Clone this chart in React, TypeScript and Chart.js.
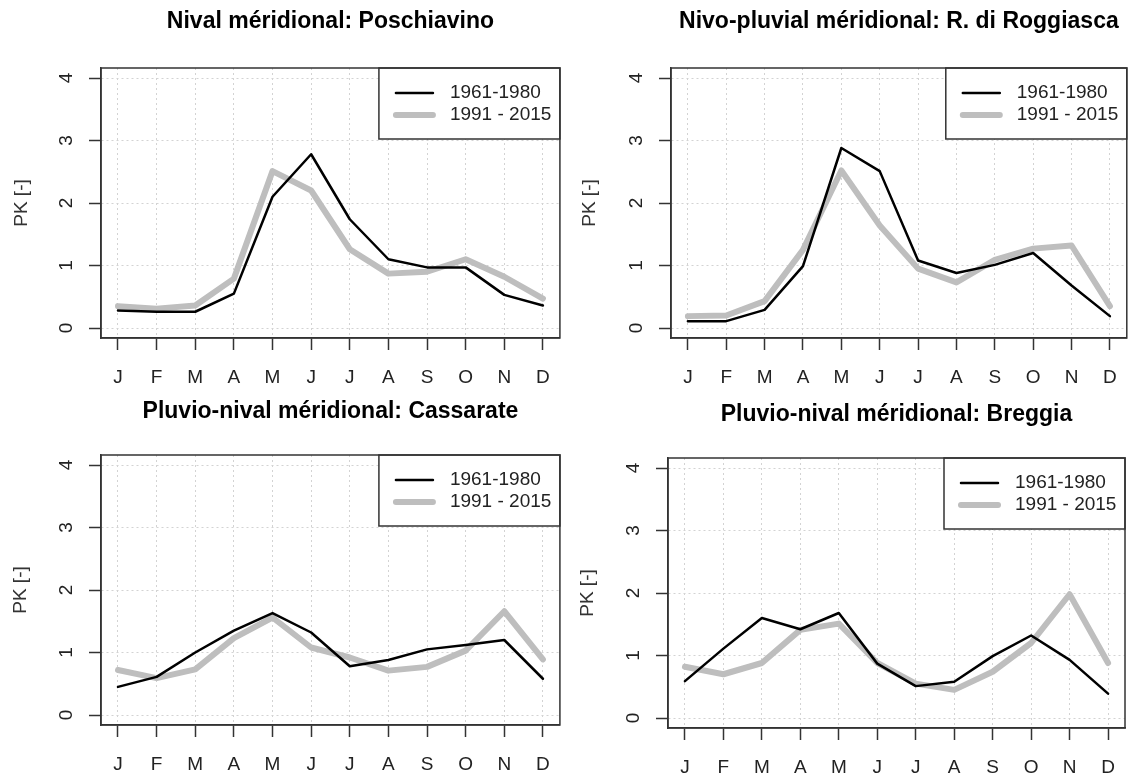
import React, { useEffect, useRef } from "react";
import { Chart, registerables } from "chart.js";

Chart.register(...registerables);

const MONTHS = ["J", "F", "M", "A", "M", "J", "J", "A", "S", "O", "N", "D"];
const Y_TICKS = [0, 1, 2, 3, 4];
const SERIES_LABELS = ["1961-1980", "1991 - 2015"];
const Y_TITLE = "PK [-]";

const TITLES = [
  "Nival méridional: Poschiavino",
  "Nivo-pluvial méridional: R. di Roggiasca",
  "Pluvio-nival méridional: Cassarate",
  "Pluvio-nival méridional: Breggia",
];

const poschiavino1961 = [0.28, 0.26, 0.26, 0.55, 2.1, 2.78, 1.74, 1.1, 0.97, 0.97, 0.53, 0.36];
const poschiavino1991 = [0.35, 0.31, 0.36, 0.79, 2.51, 2.2, 1.26, 0.87, 0.9, 1.1, 0.82, 0.47];
const roggiasca1961 = [0.11, 0.11, 0.29, 0.99, 2.88, 2.51, 1.08, 0.88, 1.01, 1.2, 0.68, 0.19];
const roggiasca1991 = [0.19, 0.2, 0.43, 1.25, 2.52, 1.64, 0.95, 0.73, 1.09, 1.27, 1.32, 0.35];
const cassarate1961 = [0.45, 0.61, 1.0, 1.35, 1.63, 1.32, 0.78, 0.88, 1.05, 1.12, 1.2, 0.58];
const cassarate1991 = [0.72, 0.59, 0.73, 1.23, 1.56, 1.08, 0.92, 0.71, 0.77, 1.03, 1.66, 0.89];
const breggia1961 = [0.59, 1.11, 1.6, 1.42, 1.68, 0.87, 0.51, 0.58, 0.99, 1.32, 0.93, 0.39];
const breggia1991 = [0.82, 0.7, 0.88, 1.41, 1.51, 0.88, 0.55, 0.45, 0.74, 1.2, 1.98, 0.88];

const EARLY = [poschiavino1961, roggiasca1961, cassarate1961, breggia1961];
const LATE = [poschiavino1991, roggiasca1991, cassarate1991, breggia1991];

// layout (canvas coords): plot-box left/top/right/bottom, title centre y, y-title centre x
const PANELS = [
  { left: 0, top: 0, w: 566, L: 101, T: 68, R: 561, B: 338, titleY: 22, yTitleX: 22 },
  { left: 566, top: 0, w: 567, L: 105, T: 68, R: 562, B: 338, titleY: 22, yTitleX: 24 },
  { left: 0, top: 387, w: 566, L: 101, T: 68, R: 562, B: 338, titleY: 25, yTitleX: 21 },
  { left: 566, top: 387, w: 567, L: 102, T: 71, R: 559, B: 341, titleY: 28, yTitleX: 22 },
];
const H = 387;
const FONT = '"Liberation Sans", Arial, sans-serif';
const BLACK = "#000000";
const GREY = "#BEBEBE";

const rStyle = {
  id: "rStyle",
  afterDatasetsDraw(chart: any) {
    const { ctx, chartArea } = chart;
    const w = 181;
    const h = 71;
    const x0 = chartArea.right - w;
    const y0 = chartArea.top;
    ctx.save();
    ctx.fillStyle = "#ffffff";
    ctx.fillRect(x0, y0, w, h);
    ctx.strokeStyle = "#333333";
    ctx.lineWidth = 1.5;
    ctx.strokeRect(x0, y0, w, h);
    chart.data.datasets.forEach((ds: any, i: number) => {
      const y = y0 + 25 + i * 22;
      ctx.beginPath();
      ctx.strokeStyle = ds.borderColor;
      ctx.lineWidth = ds.borderWidth;
      ctx.lineCap = "round";
      ctx.moveTo(x0 + 17, y);
      ctx.lineTo(x0 + 54, y);
      ctx.stroke();
      ctx.fillStyle = "#222222";
      ctx.font = `19px ${FONT}`;
      ctx.textBaseline = "middle";
      ctx.textAlign = "left";
      ctx.fillText(ds.label, x0 + 71, y);
    });
    ctx.strokeStyle = "#333333";
    ctx.lineWidth = 1.5;
    ctx.strokeRect(chartArea.left, chartArea.top, chartArea.right - chartArea.left, chartArea.bottom - chartArea.top);
    ctx.restore();
  },
};

function Panel({ idx }: { idx: number }) {
  const ref = useRef<HTMLCanvasElement | null>(null);
  const p = PANELS[idx];
  useEffect(() => {
    if (!ref.current) return;
    const titleLH = 23 * 1.2;
    const titleTop = p.titleY - titleLH / 2;
    const titleBottom = p.T - titleTop - titleLH;
    const yLH = 19 * 1.2;
    const chart = new Chart(ref.current, {
      type: "line",
      data: {
        datasets: [
          {
            label: SERIES_LABELS[0],
            data: EARLY[idx].map((v, i) => ({ x: i + 1, y: v })),
            borderColor: BLACK,
            borderWidth: 2.5,
            pointRadius: 0,
            tension: 0,
            borderJoinStyle: "round",
            borderCapStyle: "round",
          },
          {
            label: SERIES_LABELS[1],
            data: LATE[idx].map((v, i) => ({ x: i + 1, y: v })),
            borderColor: GREY,
            borderWidth: 6,
            pointRadius: 0,
            tension: 0,
            borderJoinStyle: "round",
            borderCapStyle: "round",
          },
        ],
      },
      options: {
        animation: false,
        responsive: false,
        layout: { padding: { left: 0, top: 0, bottom: 0, right: p.w - p.R } },
        plugins: {
          legend: { display: false },
          tooltip: { enabled: false },
          title: {
            display: true,
            text: TITLES[idx],
            fullSize: false,
            color: "#000000",
            font: { family: FONT, size: 23, weight: "bold", lineHeight: 1.2 },
            padding: { top: titleTop, bottom: titleBottom },
          },
        },
        scales: {
          x: {
            type: "linear",
            min: 0.56,
            max: 12.44,
            afterBuildTicks: (s: any) => {
              s.ticks = MONTHS.map((_, i) => ({ value: i + 1 }));
            },
            afterFit: (s: any) => {
              s.height = H - p.B;
            },
            ticks: {
              autoSkip: false,
              maxRotation: 0,
              minRotation: 0,
              padding: 16,
              color: "#222222",
              font: { family: FONT, size: 19 },
              callback: (v: any) => MONTHS[Math.round(v) - 1] ?? "",
            },
            grid: {
              color: "#D3D3D3",
              lineWidth: 1,
              tickLength: 12,
              tickColor: "#333333",
              tickWidth: 1.5,
            },
            border: { display: true, color: "#333333", width: 1.5, dash: [2, 3] },
          },
          y: {
            type: "linear",
            min: -0.16,
            max: 4.16,
            afterBuildTicks: (s: any) => {
              s.ticks = Y_TICKS.map((v) => ({ value: v }));
            },
            afterFit: (s: any) => {
              s.width = p.L;
            },
            ticks: {
              minRotation: 90,
              maxRotation: 90,
              crossAlign: "center",
              padding: 17,
              color: "#222222",
              font: { family: FONT, size: 19 },
              callback: (v: any) => String(v),
            },
            grid: {
              color: "#D3D3D3",
              lineWidth: 1,
              tickLength: 12,
              tickColor: "#333333",
              tickWidth: 1.5,
            },
            border: { display: true, color: "#333333", width: 1.5, dash: [2, 3] },
            title: {
              display: true,
              text: Y_TITLE,
              color: "#333333",
              font: { family: FONT, size: 19, lineHeight: 1.2 },
              padding: { top: p.yTitleX - yLH / 2, bottom: 0 },
            },
          },
        },
      },
      plugins: [rStyle],
    } as any);
    return () => chart.destroy();
  }, [idx]);
  return (
    <div style={{ position: "absolute", left: p.left, top: p.top, width: p.w, height: H }}>
      <canvas ref={ref} width={p.w} height={H} style={{ display: "block" }} />
    </div>
  );
}

export default function App() {
  return (
    <div style={{ position: "absolute", left: 0, top: 0, width: 1133, height: 774, background: "#ffffff" }}>
      {PANELS.map((_, i) => (
        <Panel key={i} idx={i} />
      ))}
    </div>
  );
}
